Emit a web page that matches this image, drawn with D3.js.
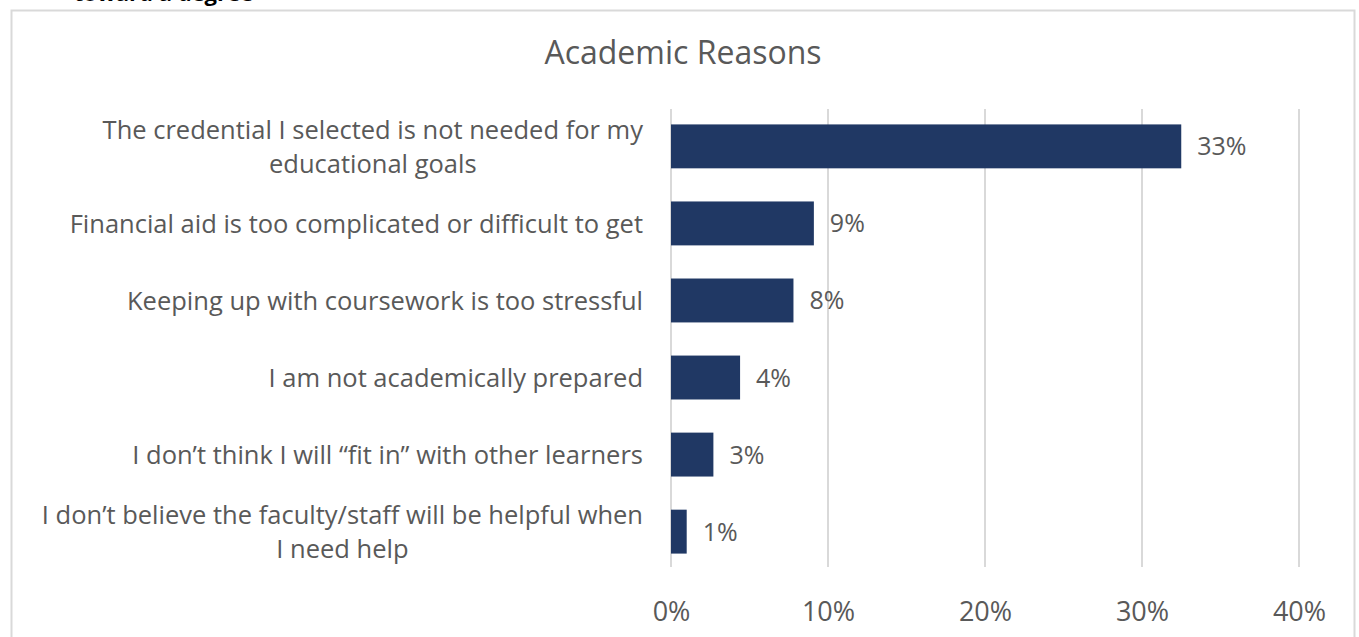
<!DOCTYPE html>
<html>
<head>
<meta charset="utf-8">
<script src="https://cdn.jsdelivr.net/npm/d3@7/dist/d3.min.js"></script>
<style>
  html, body { margin: 0; padding: 0; background: #fff; }
  svg { display: block; font-family: "Open Sans", "Noto Sans", sans-serif; }
</style>
</head>
<body>
<svg id="chart" width="1359" height="637"></svg>
<script>
// Survey responses: share of respondents citing each academic reason (%)
const categories = [
  ["The credential I selected is not needed for my", "educational goals"],
  ["Financial aid is too complicated or difficult to get"],
  ["Keeping up with coursework is too stressful"],
  ["I am not academically prepared"],
  ["I don\u2019t think I will \u201cfit in\u201d with other learners"],
  ["I don\u2019t believe the faculty/staff will be helpful when", "I need help"]
];
const values = [32.5, 9.1, 7.8, 4.4, 2.7, 1.0];
const tickValues = [0, 10, 20, 30, 40];
const titleText = "Academic Reasons";
const headingText = "toward a degree";

const svg = d3.select("#chart");
const textColor = "#595959";
const barColor = "#203864";
const gridColor = "#d9d9d9";

// heading above the chart frame (runs off the top of the page)
svg.append("text")
  .attr("x", 253).attr("y", 0.5)
  .attr("text-anchor", "end")
  .attr("font-weight", "bold")
  .attr("font-size", 22)
  .attr("fill", "#000")
  .text(headingText);

// chart frame
svg.append("rect")
  .attr("x", 11.5).attr("y", 10.5)
  .attr("width", 1343).attr("height", 640)
  .attr("fill", "#fff")
  .attr("stroke", gridColor)
  .attr("stroke-width", 2);

// title
svg.append("text")
  .attr("x", 683).attr("y", 64)
  .attr("text-anchor", "middle")
  .attr("font-size", 32)
  .attr("fill", textColor)
  .text(titleText);

const plot = { left: 671, right: 1299, top: 109, bottom: 569 };

const x = d3.scaleLinear().domain([0, 40]).range([plot.left, plot.right]);
const y = d3.scaleBand()
  .domain(d3.range(categories.length))
  .range([plot.top, plot.bottom])
  .paddingInner(0.43)
  .paddingOuter(0.2);

// vertical gridlines
svg.append("g").selectAll("line")
  .data(tickValues)
  .join("line")
  .attr("x1", d => x(d)).attr("x2", d => x(d))
  .attr("y1", plot.top).attr("y2", plot.bottom - 2)
  .attr("stroke", gridColor)
  .attr("stroke-width", 2);

// x axis labels
const xAxis = d3.axisBottom(x)
  .tickValues(tickValues)
  .tickFormat(d => d + "%")
  .tickSize(0)
  .tickPadding(0);
const gx = svg.append("g")
  .attr("transform", `translate(0, 621)`)
  .call(xAxis);
gx.select(".domain").remove();
gx.selectAll("text")
  .attr("font-family", "Open Sans, Noto Sans, sans-serif")
  .attr("font-size", 27)
  .attr("fill", textColor)
  .attr("y", 0)
  .attr("dy", 0);

// bars
svg.append("g").selectAll("rect")
  .data(values)
  .join("rect")
  .attr("x", x(0))
  .attr("y", (d, i) => y(i))
  .attr("width", d => x(d) - x(0))
  .attr("height", y.bandwidth())
  .attr("fill", barColor);

// value labels
svg.append("g").selectAll("text")
  .data(values)
  .join("text")
  .attr("x", d => x(d) + 16)
  .attr("y", (d, i) => y(i) + y.bandwidth() / 2)
  .attr("dy", "0.36em")
  .attr("font-size", 25)
  .attr("fill", textColor)
  .text(d => Math.round(d) + "%");

// category labels: right edge at 643, wrapped lines centred on the widest line
const labelRight = 643;
const lineH = 34;
const catFont = 25.5;
svg.append("g").selectAll("text")
  .data(categories)
  .join("text")
  .attr("font-size", catFont)
  .attr("fill", textColor)
  .attr("text-anchor", "middle")
  .each(function(lines, i) {
    const t = d3.select(this);
    const cy = y(i) + y.bandwidth() / 2;
    const offset = -(lines.length - 1) * lineH / 2;
    const spans = lines.map((ln, k) =>
      t.append("tspan")
        .attr("y", cy + offset + k * lineH)
        .attr("dy", "0.36em")
        .text(ln));
    const widest = d3.max(spans, s => s.node().getComputedTextLength());
    spans.forEach(s => s.attr("x", labelRight - widest / 2));
  });
</script>
</body>
</html>
